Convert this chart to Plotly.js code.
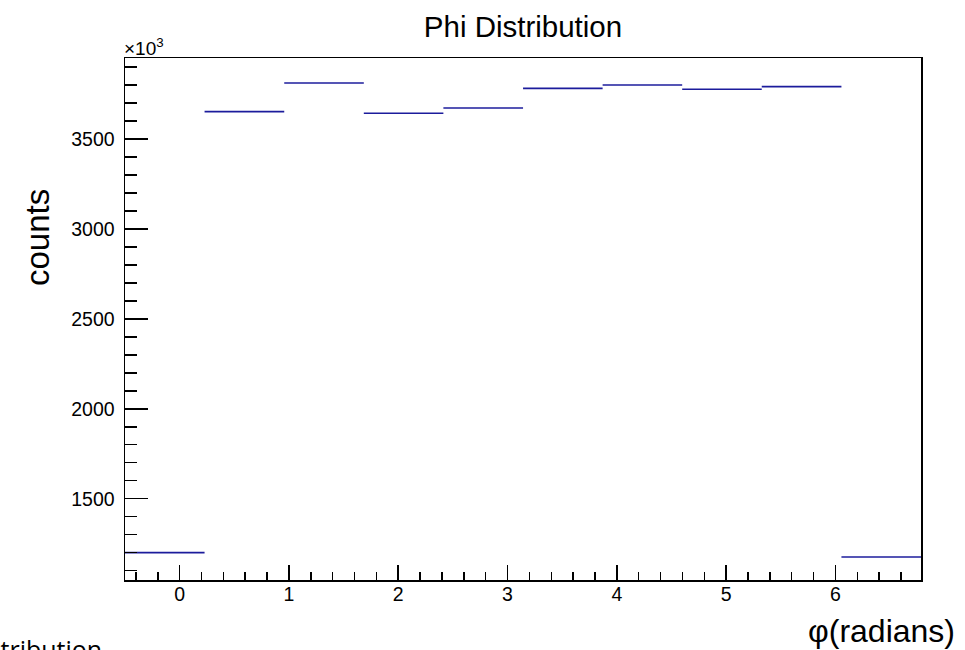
<!DOCTYPE html>
<html>
<head>
<meta charset="utf-8">
<script src="https://cdn.plot.ly/plotly-3.0.1.min.js"></script>
<style>html,body{margin:0;padding:0;background:#fff;}#chart{width:965px;height:650px;}</style>
</head>
<body>
<div id="chart"></div>
<script>
// Histogram bin edges (radians): 10 bins from -0.5 to 2*pi+0.5
const binEdges = [-0.5, 0.228, 0.957, 1.685, 2.413, 3.142, 3.870, 4.598, 5.326, 6.055, 6.783];
// Counts per bin, in units of 10^3
const countsK = [1200, 3652, 3811, 3643, 3672, 3781, 3800, 3776, 3791, 1176];
const chartTitle = "Phi Distribution";
const xLabel = "φ(radians)";
const yLabel = "counts";

// Build horizontal step segments (one per bin)
const xs = [], ys = [];
for (let i = 0; i < countsK.length; i++) {
  xs.push(binEdges[i], binEdges[i + 1], null);
  ys.push(countsK[i], countsK[i], null);
}

const L = 125, R = 44, T = 58, B = 70;
const W = 965 - L - R, H = 650 - T - B;
const px = p => (p - L) / W;
const py = p => (650 - B - p) / H;

const trace = {
  type: 'scatter', mode: 'lines', x: xs, y: ys, connectgaps: false,
  line: {color: '#1c1c9c', width: 1.6}, hoverinfo: 'skip', showlegend: false
};

const axisFont = {family: 'Liberation Sans, Arial, sans-serif', size: 19.5, color: '#000'};

const layout = {
  width: 965, height: 650,
  margin: {l: L, r: R, t: T, b: B, pad: 0},
  paper_bgcolor: '#fff', plot_bgcolor: '#fff',
  showlegend: false,
  title: {text: chartTitle, font: {family: 'Liberation Sans, Arial, sans-serif', size: 29.5, color: '#000'},
          xref: 'paper', x: 0.5, xanchor: 'center', yref: 'container', y: 1 - 27 / 650, yanchor: 'middle'},
  xaxis: {
    range: [binEdges[0], binEdges[binEdges.length - 1]], showgrid: false, zeroline: false,
    showline: true, mirror: true, linecolor: '#000', linewidth: 1.5,
    ticks: 'inside', ticklen: 15, tickwidth: 1.5, tickcolor: '#000',
    tick0: 0, dtick: 1, tickfont: axisFont, ticklabelstandoff: -4,
    minor: {ticks: 'inside', ticklen: 8, tickwidth: 1.5, tickcolor: '#000', dtick: 0.2, showgrid: false}
  },
  yaxis: {
    range: [1048, 3950], showgrid: false, zeroline: false,
    showline: true, mirror: true, linecolor: '#000', linewidth: 1.5,
    ticks: 'inside', ticklen: 23, tickwidth: 1.5, tickcolor: '#000',
    tick0: 0, dtick: 500, tickfont: axisFont, ticklabelstandoff: 5,
    minor: {ticks: 'inside', ticklen: 12, tickwidth: 1.5, tickcolor: '#000', dtick: 100, showgrid: false}
  },
  annotations: [
    {text: '×10<sup>3</sup>', xref: 'paper', yref: 'paper', x: px(122), y: py(61),
     xanchor: 'left', yanchor: 'bottom', showarrow: false,
     font: {family: 'Liberation Sans, Arial, sans-serif', size: 19, color: '#000'}},
    {text: yLabel, xref: 'paper', yref: 'paper', x: px(37), y: py(238), textangle: -90,
     xanchor: 'center', yanchor: 'middle', showarrow: false,
     font: {family: 'Liberation Sans, Arial, sans-serif', size: 33, color: '#000'}},
    {text: xLabel, xref: 'paper', yref: 'paper', x: px(957), y: py(631),
     xanchor: 'right', yanchor: 'middle', showarrow: false,
     font: {family: 'Liberation Sans, Arial, sans-serif', size: 32, color: '#000'}},
    {text: chartTitle, xref: 'paper', yref: 'paper', x: px(104), y: py(630),
     xanchor: 'right', yanchor: 'top', showarrow: false,
     font: {family: 'Open Sans, sans-serif', size: 25, color: '#000'}}
  ]
};

Plotly.newPlot('chart', [trace], layout, {displayModeBar: false, staticPlot: true});
</script>
</body>
</html>
